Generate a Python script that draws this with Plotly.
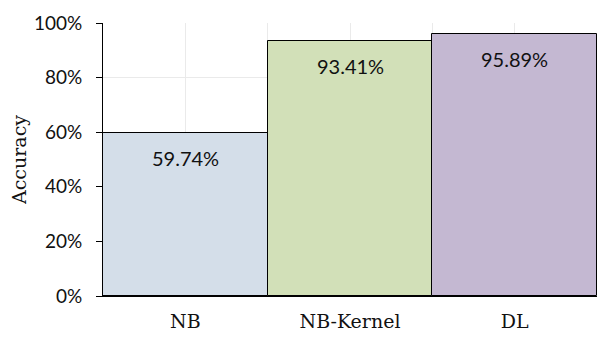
import plotly.graph_objects as go

categories = ["NB", "NB-Kernel", "DL"]
accuracy = [59.74, 93.41, 95.89]
colors = ["#D4DEE9", "#D2E0B8", "#C4B8D2"]
y_ticks = [0, 20, 40, 60, 80, 100]

n = len(categories)
xpos = list(range(n))
tickvals = [i * 0.5 - 0.5 for i in range(2 * n + 1)]
ticktext = [categories[int(v)] if float(v).is_integer() else "" for v in tickvals]

fig = go.Figure()
fig.add_trace(go.Bar(
    x=xpos, y=accuracy, width=1.0,
    marker=dict(color=colors, line=dict(color="black", width=1)),
    hoverinfo="skip",
))
for x, v in zip(xpos, accuracy):
    fig.add_annotation(
        x=x, y=v, text=f"{v:.2f}%", showarrow=False,
        yanchor="top", yshift=-11,
        font=dict(family="Lato", size=20, color="#111111"),
    )

# page body has an 8px default margin, so margins compensate
fig.update_layout(
    width=607, height=340,
    margin=dict(l=95, r=18, t=15, b=52),
    paper_bgcolor="white", plot_bgcolor="white",
    showlegend=False,
    bargap=0,
)
fig.update_xaxes(
    range=[-0.5, n - 0.5],
    tickvals=tickvals, ticktext=ticktext,
    showgrid=True, gridcolor="#EAEAEA", gridwidth=1,
    showline=True, linecolor="black", linewidth=1,
    ticks="", zeroline=False, automargin=False,
    ticklabelstandoff=8,
    tickfont=dict(family="DejaVu Serif", size=19, color="#111111"),
)
fig.update_yaxes(
    range=[0, 100],
    tickvals=y_ticks, ticktext=[f"{v}%" for v in y_ticks],
    showgrid=True, gridcolor="#EAEAEA", gridwidth=1,
    showline=True, linecolor="black", linewidth=1,
    ticks="outside", ticklen=6, tickcolor="black",
    zeroline=False, automargin=False,
    ticklabelstandoff=10,
    tickfont=dict(family="Lato", size=19, color="#111111"),
    title=dict(text="Accuracy", font=dict(family="DejaVu Serif", size=19, color="#111111"), standoff=19),
)

fig.write_html("out.html")
